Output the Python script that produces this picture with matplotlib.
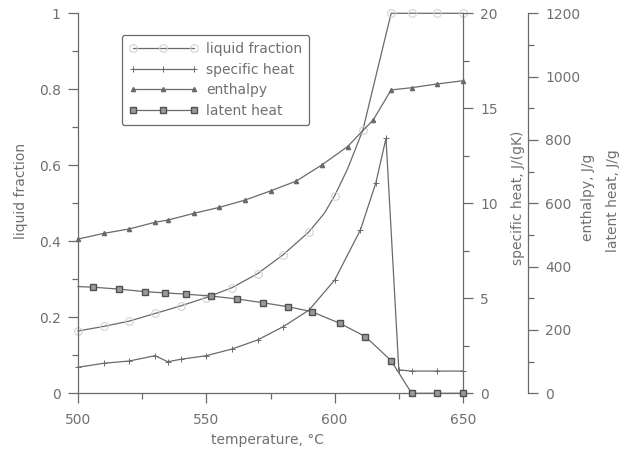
import matplotlib
matplotlib.use("Agg")
import matplotlib.pyplot as plt
from matplotlib.ticker import MultipleLocator

# liquid fraction (left axis)
t_lf = [500, 510, 520, 530, 540, 550, 560, 570, 580, 590, 596, 600, 605, 611, 616, 622, 630, 640, 650]
lf = [0.164, 0.176, 0.19, 0.21, 0.23, 0.252, 0.278, 0.315, 0.365, 0.425, 0.474, 0.52, 0.59, 0.693, 0.833, 1.0, 1.0, 1.0, 1.0]

# specific heat, J/(gK)
t_cp = [500, 510, 520, 530, 535, 540, 550, 560, 570, 580, 590, 600, 610, 616, 620, 625, 630, 640, 650]
cp = [1.37, 1.58, 1.70, 1.98, 1.66, 1.79, 1.98, 2.33, 2.81, 3.51, 4.38, 5.96, 8.59, 11.05, 13.42, 1.23, 1.17, 1.17, 1.17]

# enthalpy, J/g
t_h = [500, 510, 520, 530, 535, 545, 555, 565, 575, 585, 595, 605, 615, 622, 630, 640, 650]
h = [487, 505, 519, 540, 547, 568, 587, 610, 639, 670, 721, 779, 863, 958, 965, 977, 987]

# latent heat, J/g
t_lh = [500, 506, 516, 526, 534, 542, 552, 562, 572, 582, 591, 602, 612, 622, 630, 640, 650]
lh = [337, 335, 329, 321, 317, 313, 307, 298, 286, 273, 258, 221, 179, 103, 0, 0, 0]

grey = "#6a6a6a"
txt = "#707070"
plt.rcParams["font.family"] = ["DejaVu Sans"]
plt.rcParams["font.size"] = 10

fig = plt.figure(figsize=(6.25, 4.55), dpi=100)
ax = fig.add_axes([0.1248, 0.1356, 0.616, 0.8352])
ax2 = ax.twinx()
ax3 = ax.twinx()

l1, = ax.plot(t_lf, lf, color=grey, lw=0.9, marker="o", ms=5.5, mfc="none",
              mec="#d2d2d2", mew=0.8, markevery=[0, 1, 2, 3, 4, 5, 6, 7, 8, 9, 11, 13, 15, 16, 17, 18],
              clip_on=False, label="liquid fraction")
l2, = ax2.plot(t_cp, cp, color=grey, lw=0.9, marker="+", ms=4.5, mew=0.7,
               clip_on=False, label="specific heat")
l3, = ax3.plot(t_h, h, color=grey, lw=0.9, marker="^", ms=3, mfc=grey, mec=grey,
               clip_on=False, label="enthalpy")
l4, = ax3.plot(t_lh, lh, color=grey, lw=0.9, marker="s", ms=5, mfc="#9a9a9a", mec="#505050",
               mew=1.0, markevery=slice(1, None), clip_on=False, label="latent heat")

ax.set_xlim(500, 650)
ax.set_ylim(0, 1)
ax2.set_ylim(0, 20)
ax3.set_ylim(0, 1200)

ax.xaxis.set_major_locator(MultipleLocator(50))
ax.xaxis.set_minor_locator(MultipleLocator(25))
ax.yaxis.set_minor_locator(MultipleLocator(0.1))
ax.set_yticks([0, 0.2, 0.4, 0.6, 0.8, 1])
ax.set_yticklabels(["0", "0.2", "0.4", "0.6", "0.8", "1"])
ax2.yaxis.set_major_locator(MultipleLocator(5))
ax2.yaxis.set_minor_locator(MultipleLocator(2.5))
ax3.yaxis.set_major_locator(MultipleLocator(200))
ax3.yaxis.set_minor_locator(MultipleLocator(100))

for a in (ax, ax2, ax3):
    for s in a.spines.values():
        s.set_visible(False)
        s.set_color(grey)
        s.set_linewidth(0.9)
    a.tick_params(which="both", direction="out", colors=grey, labelcolor=txt, width=0.9)
    a.tick_params(which="major", length=7.5, pad=5)
    a.tick_params(which="minor", length=4)
    a.patch.set_visible(False)

ax.spines["left"].set_visible(True)
ax.spines["bottom"].set_visible(True)
ax.tick_params(axis="x", which="major", pad=7)
ax2.spines["right"].set_visible(True)
ax3.spines["right"].set_visible(True)
ax3.spines["right"].set_position(("axes", 1.168))

fig.text(0.0336, 0.581, "liquid fraction", rotation=90, ha="center", va="center", color=txt)
fig.text(0.428, 0.033, "temperature, °C", ha="center", va="center", color=txt)
fig.text(0.829, 0.565, "specific heat, J/(gK)", rotation=90, ha="center", va="center", color=txt)
fig.text(0.941, 0.567, "enthalpy, J/g", rotation=90, ha="center", va="center", color=txt)
fig.text(0.980, 0.558, "latent heat, J/g", rotation=90, ha="center", va="center", color=txt)

leg = ax3.legend(handles=[l1, l2, l3, l4], loc="upper left", bbox_to_anchor=(0.1135, 0.943),
                 bbox_transform=ax.transAxes, borderaxespad=0, numpoints=3, handlelength=5.0,
                 handletextpad=0.6, labelspacing=0.48, borderpad=0.5, fancybox=True,
                 framealpha=1, edgecolor=grey, labelcolor=txt)
leg.get_frame().set_linewidth(0.9)

fig.savefig("out.png", dpi=100)
